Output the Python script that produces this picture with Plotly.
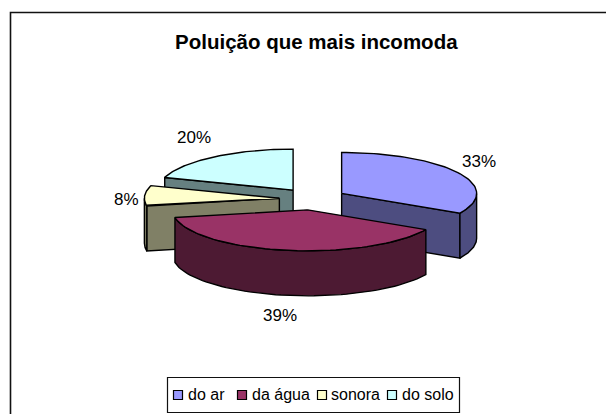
import math
import plotly.graph_objects as go

categories = ["do ar", "da água", "sonora", "do solo"]
values = [33, 39, 8, 20]
top_colors = ["#9999FF", "#993366", "#FFFFCC", "#CCFFFF"]
side_colors = ["#4D4D80", "#4D1A33", "#808066", "#668080"]
title_text = "Poluição que mais incomoda"

W, H = 606, 414
CX, CY = 312.8, 199.0          # pie centre in pixels
RX, RY = 135.0, 41.0           # ellipse radii of top face
DEPTH = 45.0
EXPLODE_X, EXPLODE_Y = 33.5, 11.0
LABEL_NUDGE = [(21, -11), (-6, 20), (-18, 4), (-20, -19)]  # label offset from slice rim
LEGEND_SWATCH_X = [178, 242, 322, 392]
LEGEND_TEXT_X = [188, 252, 331, 402]
LEGEND_Y = 395


def pt(ax, ay, deg, dy=0.0):
    r = math.radians(deg)
    return ax + RX * math.sin(r), ay - RY * math.cos(r) + dy


def arc(ax, ay, a0, a1, dy=0.0, n=60):
    return [pt(ax, ay, a0 + (a1 - a0) * i / n, dy) for i in range(n + 1)]


def poly(points, fill, name=None):
    xs = [p[0] for p in points] + [points[0][0]]
    ys = [p[1] for p in points] + [points[0][1]]
    return go.Scatter(x=xs, y=ys, mode="lines", fill="toself", fillcolor=fill,
                      line=dict(color="black", width=1.4), showlegend=False,
                      hoverinfo="skip", name=name)


total = sum(values)
slices = []
start = 0.0
for c, v, top, side in zip(categories, values, top_colors, side_colors):
    end = start + v / total * 360
    mid = math.radians((start + end) / 2)
    ax = CX + EXPLODE_X * math.sin(mid)
    ay = CY - EXPLODE_Y * math.cos(mid)
    slices.append(dict(name=c, v=v, a0=start, a1=end, ax=ax, ay=ay, top=top, side=side))
    start = end

fig = go.Figure()
# back-to-front painter order: furthest apex first
for s in sorted(slices, key=lambda q: q["ay"]):
    ax, ay, a0, a1 = s["ax"], s["ay"], s["a0"], s["a1"]
    # radial faces that look toward the viewer
    if 0 < a1 < 180:
        e = pt(ax, ay, a1)
        fig.add_trace(poly([(ax, ay), e, (e[0], e[1] + DEPTH), (ax, ay + DEPTH)], s["side"]))
    if 180 < a0 < 360:
        e = pt(ax, ay, a0)
        fig.add_trace(poly([(ax, ay), e, (e[0], e[1] + DEPTH), (ax, ay + DEPTH)], s["side"]))
    # outer wall on the front half of the ellipse
    w0, w1 = max(a0, 90), min(a1, 270)
    if w1 > w0:
        upper = arc(ax, ay, w0, w1)
        lower = arc(ax, ay, w1, w0, DEPTH)
        fig.add_trace(poly(upper + lower, s["side"]))
    # top face
    fig.add_trace(poly([(ax, ay)] + arc(ax, ay, a0, a1), s["top"], s["name"]))

# percentage labels
for s, (nx, ny) in zip(slices, LABEL_NUDGE):
    m = (s["a0"] + s["a1"]) / 2
    x, y = pt(s["ax"], s["ay"], m, DEPTH if 90 < m < 270 else 0)
    fig.add_annotation(x=x + nx, y=y + ny, text=f"{s['v']}%", showarrow=False,
                       font=dict(family="Liberation Sans", size=17, color="black"))

# legend entries, packed as tightly as in the reference
fig.add_trace(go.Scatter(
    x=LEGEND_SWATCH_X, y=[LEGEND_Y] * len(categories), mode="markers",
    marker=dict(symbol="square", size=9, color=top_colors, line=dict(color="black", width=1.2)),
    showlegend=False, hoverinfo="skip", cliponaxis=False))
for c, tx in zip(categories, LEGEND_TEXT_X):
    fig.add_annotation(x=tx, y=LEGEND_Y - 1, text=c, showarrow=False, xanchor="left",
                       xshift=-2, font=dict(family="Liberation Sans", size=16, color="black"))

fig.update_layout(
    width=W, height=H, margin=dict(l=0, r=0, t=0, b=0),
    paper_bgcolor="white", plot_bgcolor="white", showlegend=False,
    xaxis=dict(range=[0, W], visible=False, fixedrange=True),
    yaxis=dict(range=[H, 0], visible=False, fixedrange=True),
    font=dict(family="Liberation Sans", color="black"),
    title=dict(text=f"<b>{title_text}</b>", x=0.522, xanchor="center", y=0.9, yanchor="middle",
               font=dict(family="Liberation Sans", size=20.5, color="black")),
    shapes=[
        dict(type="rect", xref="x", yref="y", x0=10.5, y0=12.5, x1=620, y1=430,
             line=dict(color="#111111", width=1.6), layer="below"),
        dict(type="rect", xref="x", yref="y", x0=167.5, y0=377.5, x1=459.5, y1=412.5,
             line=dict(color="#111111", width=1.2), layer="below"),
    ],
)
fig.write_html("out.html", config=dict(displayModeBar=False),
               post_script="document.body.style.margin='0';window.dispatchEvent(new Event('resize'));")
